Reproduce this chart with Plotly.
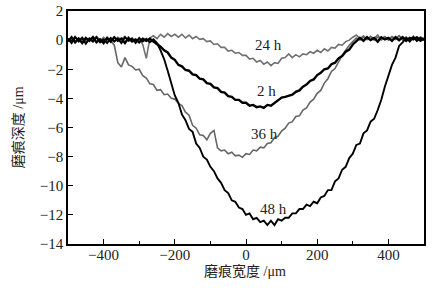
import plotly.graph_objects as go

# sampling grid (µm)
width_um = list(range(-500, 501, 10))

# depth profiles (µm), rows of 10 starting at -500, -400, ... 400, then 500
depth_48h = [
    0.10, -0.20, 0.20, -0.10, 0.15, -0.25, 0.10, -0.10, 0.20, -0.15,
    0.05, -0.20, 0.15, -0.10, 0.10, -0.20, 0.20, -0.05, 0.10, -0.20,
    0.15, -0.10, 0.10, -0.15, 0.05, -0.20, -0.70, -1.30, -2.10, -3.00,
    -3.80, -4.30, -5.10, -5.50, -6.10, -6.30, -7.10, -7.40, -8.00, -8.20,
    -8.70, -9.00, -9.50, -9.80, -10.30, -10.50, -11.00, -11.10, -11.50, -11.60,
    -12.00, -11.90, -12.30, -12.20, -12.50, -12.40, -12.70, -12.40, -12.70, -12.30,
    -12.40, -12.20, -12.20, -11.90, -11.90, -11.60, -11.60, -11.30, -11.40, -11.10,
    -11.20, -10.80, -10.70, -10.30, -10.30, -9.70, -9.50, -8.90, -8.70, -8.10,
    -7.80, -7.20, -7.10, -6.40, -6.20, -5.60, -5.40, -4.80, -4.10, -3.20,
    -2.50, -1.70, -1.20, -0.40, -0.15, 0.15, -0.10, 0.20, -0.05, 0.15,
    0.00,
]

depth_2h = [
    -0.10, 0.20, -0.15, 0.10, -0.20, 0.15, -0.05, 0.20, -0.15, 0.05,
    -0.20, 0.15, -0.10, 0.20, -0.05, 0.10, -0.20, 0.15, -0.10, 0.05,
    -0.15, 0.10, -0.05, 0.10, -0.10, -0.25, -0.45, -0.70, -0.85, -1.20,
    -1.35, -1.70, -1.80, -2.05, -2.10, -2.35, -2.40, -2.65, -2.70, -2.95,
    -3.00, -3.25, -3.30, -3.55, -3.60, -3.85, -3.90, -4.10, -4.10, -4.30,
    -4.30, -4.50, -4.45, -4.60, -4.55, -4.65, -4.45, -4.50, -4.30, -4.15,
    -3.95, -3.90, -3.80, -3.75, -3.55, -3.45, -3.20, -3.05, -2.80, -2.70,
    -2.40, -2.25, -2.00, -1.95, -1.65, -1.55, -1.25, -1.10, -0.80, -0.65,
    -0.30, -0.05, 0.15, -0.05, 0.20, 0.00, 0.15, -0.10, 0.20, 0.05,
    0.15, -0.05, 0.20, 0.00, 0.20, -0.05, 0.15, 0.05, 0.20, -0.05,
    0.10,
]

depth_24h = [
    0.10, -0.05, 0.25, 0.00, 0.20, -0.10, 0.15, 0.05, 0.25, -0.05,
    0.20, 0.00, 0.15, -0.10, 0.20, 0.05, 0.25, -0.05, 0.15, -0.10,
    0.10, -0.30, -1.25, 0.15, 0.30, 0.10, 0.40, 0.20, 0.45, 0.25,
    0.40, 0.20, 0.40, 0.15, 0.35, 0.10, 0.25, 0.05, 0.10, -0.10,
    -0.05, -0.30, -0.25, -0.50, -0.50, -0.75, -0.70, -0.90, -0.85, -1.05,
    -1.05, -1.30, -1.25, -1.50, -1.40, -1.65, -1.50, -1.75, -1.55, -1.60,
    -1.25, -1.20, -0.95, -1.20, -1.00, -1.15, -0.95, -1.00, -0.80, -0.90,
    -0.70, -0.85, -0.60, -0.75, -0.50, -0.55, -0.30, -0.35, -0.10, 0.00,
    0.20, 0.35, 0.10, 0.30, 0.05, 0.25, 0.10, 0.35, 0.00, 0.20,
    0.05, 0.25, 0.10, 0.30, 0.00, 0.20, 0.05, 0.25, -0.05, 0.20,
    0.10,
]

depth_36h = [
    0.05, -0.15, 0.20, -0.05, 0.15, -0.20, 0.10, -0.10, 0.20, 0.00,
    -0.15, 0.15, -0.05, -0.35, -1.55, -1.85, -1.20, -1.70, -1.80, -2.05,
    -2.00, -2.45, -2.60, -3.00, -3.05, -3.45, -3.40, -3.75, -3.70, -4.00,
    -4.05, -4.35, -4.50, -4.95, -5.15, -5.85, -6.05, -6.50, -6.55, -6.85,
    -6.40, -6.20, -7.40, -7.60, -7.55, -7.80, -7.70, -7.95, -7.90, -8.05,
    -7.80, -7.85, -7.55, -7.60, -7.35, -7.40, -7.10, -7.05, -6.70, -6.60,
    -6.25, -6.05, -5.70, -5.60, -5.25, -5.20, -4.80, -4.65, -4.25, -4.05,
    -3.65, -3.45, -2.95, -2.65, -2.15, -1.95, -1.45, -1.05, -0.70, -0.35,
    -0.10, 0.15, 0.00, 0.20, 0.05, 0.25, 0.00, 0.20, 0.10, 0.25,
    0.00, 0.20, 0.05, 0.30, 0.10, 0.20, -0.05, 0.25, 0.05, 0.20,
    0.10,
]

series_names = ["24 h", "36 h", "2 h", "48 h"]
series_values = [depth_24h, depth_36h, depth_2h, depth_48h]
series_colors = ["#707070", "#666666", "#000000", "#000000"]
series_widths = [1.6, 1.6, 2.4, 1.9]

label_x = [62, 51, 58, 76]
label_y = [-0.36, -6.46, -3.5, -11.6]

x_ticks = [-400, -200, 0, 200, 400]
y_ticks = [2, 0, -2, -4, -6, -8, -10, -12, -14]

x_title = "磨痕宽度 /μm"
y_title = "磨痕深度 /μm"

fig = go.Figure()
for name, vals, col, w in zip(series_names, series_values, series_colors, series_widths):
    fig.add_trace(go.Scatter(x=width_um, y=vals, mode="lines", name=name,
                             line=dict(color=col, width=w), showlegend=False))

for name, lx, ly in zip(series_names, label_x, label_y):
    fig.add_annotation(x=lx, y=ly, text=name, showarrow=False,
                       font=dict(family="Liberation Serif", size=15, color="#222"))

font_family = "Liberation Serif, Noto Sans CJK SC"
fig.add_annotation(xref="paper", yref="paper", x=0.497, y=-0.118, text=x_title,
                   showarrow=False, xanchor="center", yanchor="middle",
                   font=dict(family=font_family, size=14, color="#222"))
fig.add_annotation(xref="paper", yref="paper", x=-0.14, y=0.502, text=y_title,
                   showarrow=False, xanchor="center", yanchor="middle", textangle=-90,
                   font=dict(family=font_family, size=14, color="#222"))

fig.update_layout(
    width=442, height=288,
    margin=dict(l=68, r=18, t=11, b=44),
    paper_bgcolor="white", plot_bgcolor="white",
    font=dict(family=font_family, size=15, color="#222"),
    xaxis=dict(range=[-500, 500], tickvals=x_ticks, ticks="inside", ticklen=5,
               tickwidth=1.2, tickcolor="black", automargin=False,
               ticklabelstandoff=-4,
               minor=dict(dtick=100, tick0=0, ticks="inside", ticklen=3, tickcolor="black"),
               showline=True, mirror=True, linecolor="black", linewidth=1.6,
               showgrid=False, zeroline=False),
    yaxis=dict(range=[-14, 2], tickvals=y_ticks, ticks="inside", ticklen=5,
               tickwidth=1.2, tickcolor="black", automargin=False,
               showline=True, mirror=True, linecolor="black", linewidth=1.6,
               showgrid=False, zeroline=False),
)

fig.write_html("out.html", config={"displayModeBar": False},
               post_script="document.body.style.margin='0';")
